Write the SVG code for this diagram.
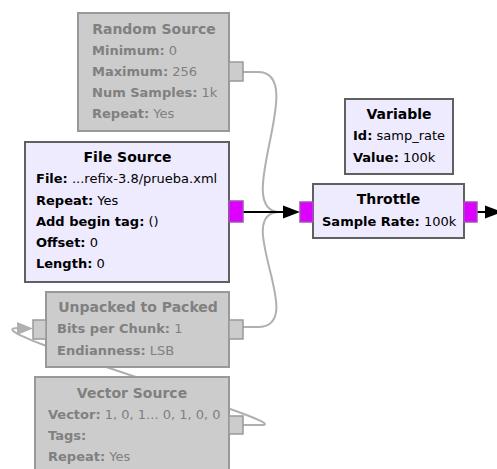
<svg xmlns="http://www.w3.org/2000/svg" width="497" height="469" viewBox="0 0 497 469">
<style>
text{font-family:"DejaVu Sans",sans-serif;font-size:13px}
.t{font-weight:bold;text-anchor:middle;font-size:14px}
.k{font-weight:bold}
.en rect.b{fill:#efebff;stroke:#606060;stroke-width:2}
.en text{fill:#000}
.dis rect.b{fill:#cccccc;stroke:#999999;stroke-width:2}
.dis text{fill:#808080}
.pd{fill:#cccccc;stroke:#999999;stroke-width:1.5}
.pe{fill:#dd00ff;stroke:#a050b8;stroke-width:1.5}
.cg{fill:none;stroke:#b0b0b0;stroke-width:2}
.cb{fill:none;stroke:#000;stroke-width:2}
</style>
<g id="connectors">
<path class="cg" d="M243,72 H258 C310,72 230,212 280,212 H292"/>
<path class="cg" d="M243,327 H258 C310,327 230,212 280,212 H292"/>
<path class="cg" d="M243,425 H262 C300,425 -35,328 18,328 H22"/>
<polygon points="17,322 33,328.5 17,335" fill="#b0b0b0"/>
<path class="cb" d="M243,212 H288"/>
<polygon points="283,205.5 300,212 283,218.5" fill="#000"/>
<path class="cb" d="M477,212 H489"/>
<polygon points="485,205.5 502,212 485,218.5" fill="#000"/>
</g>
<g id="random_source" class="dis">
<rect class="b" x="78" y="13" width="151" height="118"/>
<rect class="pd" x="229" y="62" width="14" height="19"/>
<text class="t" x="154" y="34">Random Source</text>
<text x="92" y="55"><tspan class="k">Minimum:</tspan> 0</text>
<text x="92" y="76"><tspan class="k">Maximum:</tspan> 256</text>
<text x="92" y="97"><tspan class="k">Num Samples:</tspan> 1k</text>
<text x="92" y="118"><tspan class="k">Repeat:</tspan> Yes</text>
</g>
<g id="file_source" class="en">
<rect class="b" x="25" y="142" width="204" height="140"/>
<rect class="pe" x="229" y="201" width="14" height="21"/>
<text class="t" x="127.5" y="162">File Source</text>
<text x="36" y="183"><tspan class="k">File:</tspan> ...refix-3.8/prueba.xml</text>
<text x="36" y="205"><tspan class="k">Repeat:</tspan> Yes</text>
<text x="36" y="226"><tspan class="k">Add begin tag:</tspan> ()</text>
<text x="36" y="247"><tspan class="k">Offset:</tspan> 0</text>
<text x="36" y="268"><tspan class="k">Length:</tspan> 0</text>
</g>
<g id="unpacked_to_packed" class="dis">
<rect class="b" x="46" y="292" width="183" height="75"/>
<rect class="pd" x="33" y="320" width="13" height="19"/>
<rect class="pd" x="229" y="320" width="14" height="19"/>
<text class="t" x="138" y="312">Unpacked to Packed</text>
<text x="57" y="333"><tspan class="k">Bits per Chunk:</tspan> 1</text>
<text x="57" y="355"><tspan class="k">Endianness:</tspan> LSB</text>
</g>
<g id="vector_source" class="dis">
<rect class="b" x="35" y="377" width="194" height="110"/>
<rect class="pd" x="229" y="416" width="14" height="18"/>
<text class="t" x="132" y="398">Vector Source</text>
<text x="48" y="419"><tspan class="k">Vector:</tspan> 1, 0, 1... 0, 1, 0, 0</text>
<text x="48" y="440"><tspan class="k">Tags:</tspan></text>
<text x="48" y="461"><tspan class="k">Repeat:</tspan> Yes</text>
</g>
<g id="variable" class="en">
<rect class="b" x="345" y="99" width="108" height="75"/>
<text class="t" x="399" y="119">Variable</text>
<text x="353" y="140"><tspan class="k">Id:</tspan> samp_rate</text>
<text x="353" y="162"><tspan class="k">Value:</tspan> 100k</text>
</g>
<g id="throttle" class="en">
<rect class="b" x="313" y="184" width="151" height="54"/>
<rect class="pe" x="300" y="202" width="13" height="20"/>
<rect class="pe" x="464" y="202" width="13" height="20"/>
<text class="t" x="388.5" y="204">Throttle</text>
<text x="322" y="226"><tspan class="k">Sample Rate:</tspan> 100k</text>
</g>
</svg>
